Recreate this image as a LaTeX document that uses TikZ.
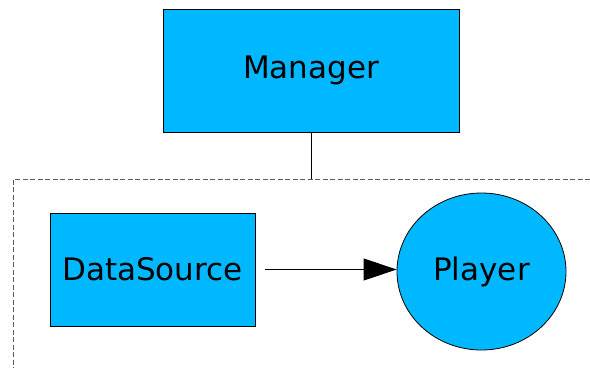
\documentclass[tikz,border=0pt]{standalone}
\usepackage{fontspec}
\setmainfont{DejaVu Sans}
\usepackage{tikz}
\usetikzlibrary{arrows.meta,shapes.geometric,positioning}
\definecolor{umlblue}{RGB}{0,184,255}
\definecolor{umlgray}{RGB}{90,90,90}
\tikzstyle{classbox} = [rectangle, draw=black, fill=umlblue, line width=0.8pt, font=\fontsize{31}{36}\selectfont, inner sep=0pt]
\tikzstyle{actor} = [ellipse, draw=black, fill=umlblue, line width=0.8pt, font=\fontsize{31}{36}\selectfont, inner sep=0pt]
\tikzstyle{flow} = [line width=0.8pt, -{Triangle[length=33pt,width=22pt]}]
\tikzstyle{boundary} = [umlgray, line width=0.8pt, dash pattern=on 5pt off 2.5pt]

\begin{document}
\begin{tikzpicture}[x=1pt, y=-1pt]
\useasboundingbox (0,0) rectangle (590,368);
% Boxes
\node (manager) [classbox, minimum width=296pt, minimum height=123pt] at (311,70.5) {Manager};
\node (datasource) [classbox, minimum width=205pt, minimum height=113pt] at (152.5,269.5) {DataSource};
\node (player) [actor, minimum width=169pt, minimum height=157pt] at (481.5,271.5) {Player};

% Package border
\coordinate (edge) at (590,179);
\coordinate (corner) at (13,179);
\coordinate (bottom) at (13,368);
\draw[boundary] (edge) -- (corner) -- (bottom);

% Connectors
\draw[line width=0.8pt] (manager.south) -- (manager.south |- corner);
\draw[flow] ([xshift=10pt]datasource.east) -- (datasource.east -| player.west);
\end{tikzpicture}
\end{document}
